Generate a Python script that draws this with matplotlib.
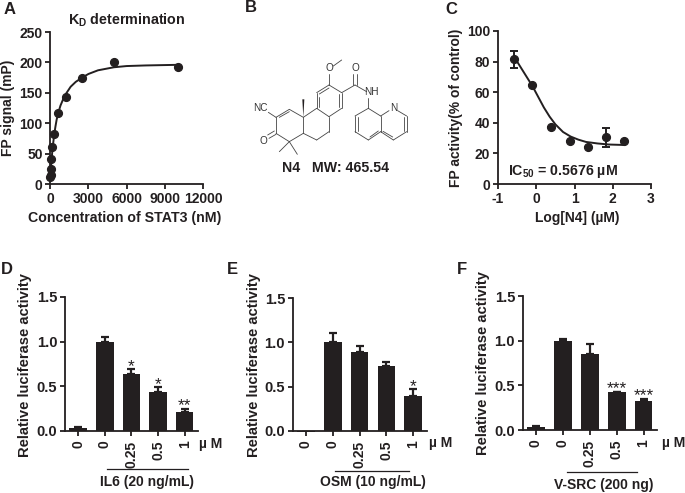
import numpy as np
import matplotlib
matplotlib.use('Agg')
import matplotlib.pyplot as plt

plt.rcParams['font.family'] = ['Liberation Sans', 'DejaVu Sans']
plt.rcParams['font.weight'] = 'bold'
plt.rcParams['mathtext.fontset'] = 'custom'
plt.rcParams['mathtext.rm'] = 'Liberation Sans:bold'
plt.rcParams['mathtext.default'] = 'rm'
plt.rcParams['axes.unicode_minus'] = False

INK = '#231f20'
W, H = 685, 493
FS = 10

# panel A
kd_conc = [10, 20, 39, 78, 156, 312, 625, 1250, 2500, 5000, 10000]
kd_fp = [11, 15, 25, 41, 61, 82, 117, 143, 175, 200, 193]
kd_fit_x = [0, 40, 80, 150, 220, 300, 400, 500, 625, 800, 1000, 1250, 1600, 2000, 2500, 3000, 3750, 5000, 6000, 7500, 10000]
kd_fit_y = [8, 22, 35, 52, 66, 80, 94, 106, 117, 129, 139, 149, 160, 168, 175, 181, 187, 192, 194, 195, 196]

# panel C
log_n4 = [-0.58, -0.1, 0.39, 0.87, 1.35, 1.83, 2.3]
fp_act = [81.5, 65, 37, 28, 24, 30.5, 28]
fp_err = [5.5, 0, 0, 0, 0, 6, 0]
ic_fit_x = [-0.55, -0.4, -0.25, -0.1, 0.05, 0.2, 0.35, 0.5, 0.7, 0.9, 1.1, 1.3, 1.6, 1.9, 2.3]
ic_fit_y = [82, 76, 70, 64, 57, 50, 44, 39, 34, 31, 29, 27.5, 26.5, 25.8, 25.5]

# panels D, E, F
doses = ['0', '0', '0.25', '0.5', '1']
il6 = [0.03, 1.0, 0.64, 0.44, 0.21]
il6_err = [0.02, 0.05, 0.05, 0.05, 0.04]
il6_sig = ['', '', '*', '*', '**']
osm = [-0.012, 1.0, 0.89, 0.73, 0.40]
osm_err = [0.0, 0.10, 0.07, 0.05, 0.07]
osm_sig = ['', '', '', '', '*']
vsrc = [0.03, 1.0, 0.85, 0.42, 0.33]
vsrc_err = [0.02, 0.02, 0.11, 0.01, 0.02]
vsrc_sig = ['', '', '', '***', '***']

fig = plt.figure(figsize=(W / 100, H / 100), dpi=100)


def px_axes(left, right, top, bottom):
    ax = fig.add_axes([left / W, 1 - bottom / H, (right - left) / W, (bottom - top) / H])
    ax.patch.set_alpha(0)
    for s in ['top', 'right']:
        ax.spines[s].set_visible(False)
    for s in ['left', 'bottom']:
        ax.spines[s].set_linewidth(1.3)
        ax.spines[s].set_color(INK)
    ax.tick_params(width=1.3, length=3.5, color=INK, labelsize=FS, labelcolor=INK, pad=2)
    return ax


def label(x, y, s, **kw):
    kw.setdefault('fontsize', FS)
    kw.setdefault('color', INK)
    kw.setdefault('ha', 'center')
    kw.setdefault('va', 'center')
    fig.text(x / W, 1 - y / H, s, **kw)


# A
ax = px_axes(50.3, 203, 32, 184)
ax.plot(kd_fit_x, kd_fit_y, color=INK, lw=1.4, clip_on=False)
ax.plot(kd_conc, kd_fp, 'o', color=INK, ms=5.6, clip_on=False)
ax.set_xlim(0, 12000)
ax.set_ylim(0, 250)
ax.set_xticks([0, 3000, 6000, 9000, 12000])
ax.set_yticks([0, 50, 100, 150, 200, 250])

# C
ax = px_axes(498, 651, 31, 184)
ax.plot(ic_fit_x, ic_fit_y, color=INK, lw=1.4)
ax.errorbar(log_n4, fp_act, yerr=fp_err, fmt='o', color=INK, ms=5.6, capsize=3, elinewidth=1.4, capthick=1.4)
ax.set_xlim(-1, 3)
ax.set_ylim(0, 100)
ax.set_xticks([-1, 0, 1, 2, 3])
ax.set_yticks([0, 20, 40, 60, 80, 100])


def bar_panel(left, right, top, bottom, vals, errs, sig):
    ax = px_axes(left, right, top, bottom)
    x = np.arange(len(vals))
    ax.bar(x, vals, width=0.66, color=INK, zorder=2, clip_on=False)
    upper = [e if v >= 0 else 0 for v, e in zip(vals, errs)]
    ax.errorbar(x, vals, yerr=[np.zeros(len(x)), upper], fmt='none', ecolor=INK, capsize=3, elinewidth=1.6, capthick=1.6, zorder=3)
    for xi, v, e, s in zip(x, vals, errs, sig):
        if s:
            ax.text(xi, v + e - 0.05, s, ha='center', va='bottom', fontsize=12.5, fontweight='normal', color=INK)
    ax.set_xlim(-0.49, 4.5)
    ax.set_ylim(0, 1.5)
    ax.set_yticks([0, 0.5, 1.0, 1.5])
    ax.set_yticklabels(['0.0', '0.5', '1.0', '1.5'])
    ax.set_xticks(x)
    ax.set_xticklabels(doses, rotation=90)
    ax.tick_params(axis='x', pad=3.5, labelsize=10)
    ax.tick_params(axis='y', labelsize=10.6)
    return ax


bar_panel(65, 198, 297, 431, il6, il6_err, il6_sig)
bar_panel(292.7, 426.7, 298, 431, osm, osm_err, osm_sig)
bar_panel(522.7, 657, 296, 430, vsrc, vsrc_err, vsrc_sig)

# texts
for x, y, s in [(10, 10, 'A'), (251, 8, 'B'), (451, 9, 'C'), (7, 269, 'D'), (232, 269, 'E'), (462, 269, 'F')]:
    label(x, y, s, fontsize=12)

label(127, 20, r'K$_{D}$ determination', fontsize=10.3)
label(125, 218, 'Concentration of STAT3 (nM)', fontsize=10.2)
label(8, 108, 'FP signal (mP)', rotation=90)
label(456, 108, 'FP activity(% of control)', rotation=90)
label(577, 218, 'Log[N4] (µM)')
label(508, 171, r'IC$_{50}$ = 0.5676 µM', ha='left', fontsize=10.2)
label(336, 168, 'N4   MW: 465.54', fontsize=10.2)
for x, y in [(25, 365), (254, 365), (483, 363)]:
    label(x, y, 'Relative luciferase activity', rotation=90, fontsize=10.6)
for x, y in [(211, 444), (441, 443), (674, 443)]:
    label(x, y, 'µ M')
label(147, 482, 'IL6 (20 ng/mL)')
label(373, 482, 'OSM (10 ng/mL)')
label(604, 485, 'V-SRC (200 ng)')

# overlay in pixel coordinates for the group lines and the structure
ov = fig.add_axes([0, 0, 1, 1])
ov.set_xlim(0, W)
ov.set_ylim(H, 0)
ov.axis('off')
ov.patch.set_alpha(0)
for x0, x1, y in [(107, 188, 469), (335, 409, 471), (567, 637, 472)]:
    ov.plot([x0, x1], [y, y], color=INK, lw=0.9)

# structure, coordinates as measured on the 3x crop of panel B
bonds = [
    ((153, 352), (193, 328)), ((193, 328), (235, 352)), ((235, 352), (235, 400)),
    ((235, 400), (193, 425)), ((193, 425), (153, 400)), ((153, 400), (153, 352)),
    ((153, 352), (130, 337)), ((193, 425), (163, 455)), ((193, 425), (217, 463)),
    ((235, 352), (275, 325)), ((275, 325), (312, 350)), ((312, 350), (312, 395)),
    ((312, 395), (275, 420)), ((275, 420), (235, 400)),
    ((275, 325), (275, 278)), ((275, 278), (312, 255)), ((312, 255), (350, 278)),
    ((350, 278), (350, 325)), ((350, 325), (312, 350)),
    ((312, 255), (312, 222)), ((325, 198), (350, 180)),
    ((350, 278), (390, 255)), ((390, 255), (425, 275)), ((430, 295), (430, 325)),
    ((430, 325), (467, 348)), ((467, 348), (467, 395)), ((467, 395), (430, 420)),
    ((430, 420), (390, 395)), ((390, 395), (390, 348)), ((390, 348), (430, 325)),
    ((467, 348), (492, 332)), ((518, 332), (545, 348)), ((545, 348), (545, 395)),
    ((545, 395), (505, 420)), ((505, 420), (467, 395)),
    # second lines of double bonds
    ((163, 352), (193, 335)), ((148, 393), (128, 405)), ((153, 403), (132, 415)),
    ((283, 282), (312, 264)), ((342, 282), (342, 322)), ((283, 322), (283, 290)),
    ((385, 255), (385, 222)), ((395, 255), (395, 222)),
    ((398, 352), (398, 392)), ((435, 411), (460, 393)), ((474, 394), (503, 411)),
    ((537, 352), (537, 392)),
]
for (x0, y0), (x1, y1) in bonds:
    ov.plot([225 + x0 / 3, 225 + x1 / 3], [y0 / 3, y1 / 3], color='#444444', lw=0.6, solid_capstyle='round')
ov.fill([225 + 235 / 3, 225 + 232 / 3, 225 + 238 / 3], [352 / 3, 298 / 3, 298 / 3], color=INK, lw=0)
for x, y, s in [(105, 325, 'NC'), (115, 422, 'O'), (312, 205, 'O'), (390, 205, 'O'), (440, 277, 'NH'), (505, 325, 'N')]:
    ov.text(225 + x / 3, y / 3, s, fontsize=7.2, fontweight='normal', color='#333333', ha='center', va='center')

fig.savefig('out.png', dpi=100)
